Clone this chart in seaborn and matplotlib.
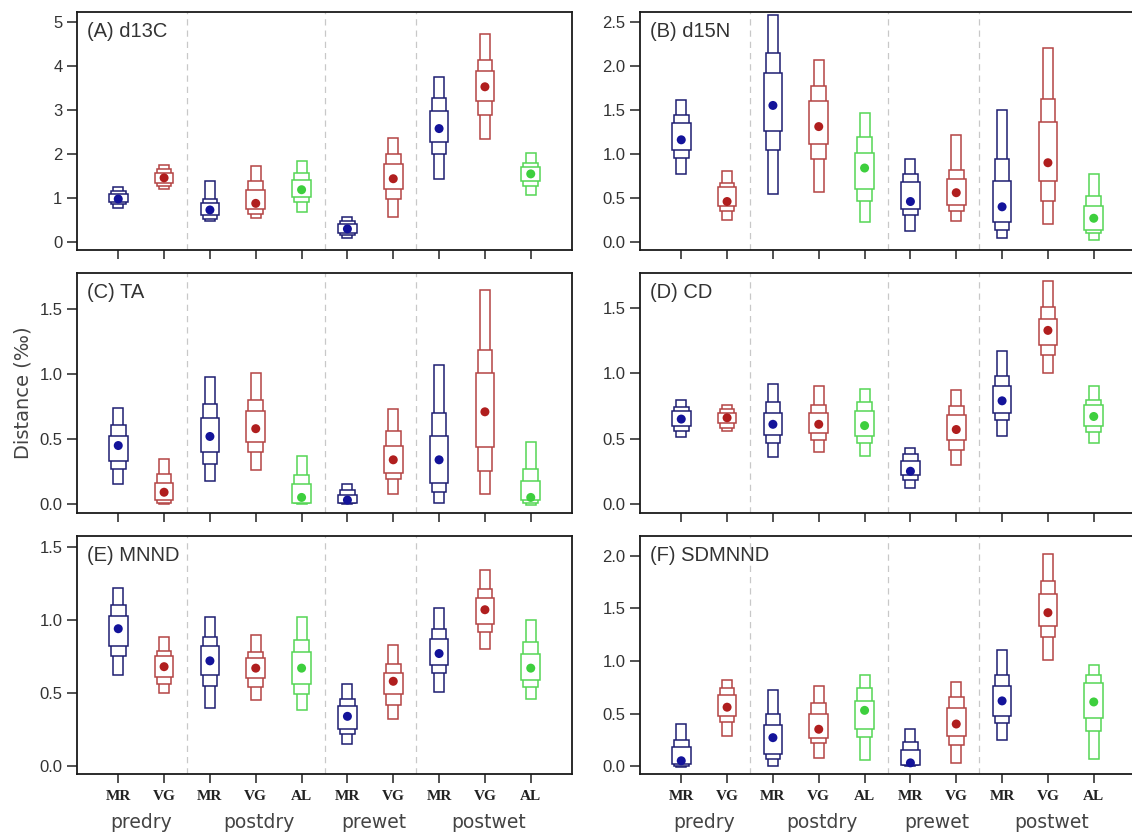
import numpy as np
import pandas as pd
import seaborn as sns
import matplotlib.pyplot as plt
from matplotlib.transforms import blended_transform_factory

# groups along the x axis (one box stack per group)
groups = ["MR", "VG", "MR", "VG", "AL", "MR", "VG", "MR", "VG", "AL"]
seasons = ["predry", "predry", "postdry", "postdry", "postdry",
           "prewet", "prewet", "postwet", "postwet", "postwet"]
season_names = ["predry", "postdry", "prewet", "postwet"]
season_centers = [1.5, 4.08, 6.58, 9.08]
separators = [2.5, 5.5, 7.5]

# (A) d13C  -- credible intervals (lo, hi) and mode
d13c_ci95 = [(0.78, 1.25), (1.2, 1.75), (0.47, 1.38), (0.55, 1.73), (0.68, 1.84),
             (0.1, 0.58), (0.56, 2.36), (1.43, 3.76), (2.35, 4.74), (1.08, 2.03)]
d13c_ci75 = [(0.86, 1.17), (1.28, 1.66), (0.53, 0.97), (0.63, 1.38), (0.9, 1.57),
             (0.15, 0.48), (0.97, 2.0), (2.0, 3.27), (2.88, 4.15), (1.27, 1.79)]
d13c_ci50 = [(0.9, 1.1), (1.34, 1.58), (0.62, 0.88), (0.76, 1.19), (1.02, 1.42),
             (0.2, 0.4), (1.2, 1.78), (2.27, 2.97), (3.2, 3.88), (1.38, 1.71)]
d13c_mode = [0.98, 1.46, 0.73, 0.88, 1.19, 0.3, 1.44, 2.58, 3.53, 1.55]

# (B) d15N
d15n_ci95 = [(0.77, 1.61), (0.25, 0.81), (0.54, 2.58), (0.57, 2.07), (0.23, 1.46),
             (0.13, 0.94), (0.24, 1.21), (0.05, 1.5), (0.21, 2.2), (0.02, 0.77)]
d15n_ci75 = [(0.95, 1.44), (0.35, 0.67), (1.05, 2.15), (0.94, 1.77), (0.47, 1.19),
             (0.31, 0.77), (0.35, 0.82), (0.14, 0.94), (0.47, 1.62), (0.1, 0.52)]
d15n_ci50 = [(1.05, 1.35), (0.41, 0.62), (1.26, 1.92), (1.11, 1.6), (0.6, 1.01),
             (0.38, 0.68), (0.42, 0.72), (0.23, 0.69), (0.69, 1.36), (0.14, 0.41)]
d15n_mode = [1.16, 0.46, 1.55, 1.31, 0.84, 0.46, 0.56, 0.4, 0.9, 0.27]

# (C) TA
ta_ci95 = [(0.15, 0.74), (0.0, 0.35), (0.18, 0.98), (0.26, 1.01), (0.0, 0.37),
           (0.0, 0.15), (0.08, 0.73), (0.01, 1.07), (0.08, 1.65), (-0.01, 0.48)]
ta_ci75 = [(0.27, 0.61), (0.01, 0.23), (0.31, 0.77), (0.4, 0.8), (0.005, 0.22),
           (0.005, 0.11), (0.19, 0.56), (0.09, 0.7), (0.25, 1.19), (0.01, 0.27)]
ta_ci50 = [(0.33, 0.52), (0.03, 0.16), (0.4, 0.66), (0.48, 0.72), (0.01, 0.15),
           (0.01, 0.07), (0.24, 0.45), (0.16, 0.52), (0.44, 1.01), (0.03, 0.18)]
ta_mode = [0.45, 0.09, 0.52, 0.58, 0.05, 0.03, 0.34, 0.34, 0.71, 0.05]

# (D) CD
cd_ci95 = [(0.51, 0.8), (0.56, 0.76), (0.36, 0.92), (0.4, 0.9), (0.37, 0.88),
           (0.12, 0.43), (0.3, 0.87), (0.52, 1.17), (1.0, 1.71), (0.47, 0.9)]
cd_ci75 = [(0.56, 0.74), (0.58, 0.73), (0.47, 0.78), (0.49, 0.76), (0.47, 0.78),
           (0.18, 0.38), (0.41, 0.75), (0.64, 0.98), (1.14, 1.51), (0.55, 0.8)]
cd_ci50 = [(0.6, 0.71), (0.62, 0.7), (0.53, 0.7), (0.54, 0.7), (0.52, 0.71),
           (0.22, 0.33), (0.49, 0.68), (0.7, 0.9), (1.22, 1.42), (0.6, 0.76)]
cd_mode = [0.65, 0.66, 0.61, 0.61, 0.6, 0.25, 0.57, 0.79, 1.33, 0.67]

# (E) MNND
mnnd_ci95 = [(0.62, 1.22), (0.5, 0.88), (0.4, 1.02), (0.45, 0.9), (0.38, 1.02),
             (0.15, 0.56), (0.32, 0.83), (0.51, 1.08), (0.8, 1.34), (0.46, 1.0)]
mnnd_ci75 = [(0.75, 1.1), (0.56, 0.79), (0.55, 0.88), (0.54, 0.78), (0.49, 0.86),
             (0.22, 0.46), (0.42, 0.7), (0.64, 0.94), (0.92, 1.21), (0.54, 0.85)]
mnnd_ci50 = [(0.82, 1.03), (0.61, 0.75), (0.62, 0.82), (0.6, 0.74), (0.56, 0.78),
             (0.25, 0.41), (0.49, 0.64), (0.69, 0.87), (0.97, 1.15), (0.59, 0.77)]
mnnd_mode = [0.94, 0.68, 0.72, 0.67, 0.67, 0.34, 0.58, 0.77, 1.07, 0.67]

# (F) SDMNND
sdmnnd_ci95 = [(-0.01, 0.4), (0.29, 0.82), (0.0, 0.72), (0.08, 0.76), (0.06, 0.87),
               (0.0, 0.35), (0.03, 0.8), (0.25, 1.1), (1.01, 2.02), (0.07, 0.96)]
sdmnnd_ci75 = [(0.0, 0.25), (0.42, 0.74), (0.07, 0.5), (0.22, 0.6), (0.28, 0.74),
               (0.005, 0.23), (0.2, 0.66), (0.41, 0.87), (1.23, 1.76), (0.33, 0.87)]
sdmnnd_ci50 = [(0.02, 0.18), (0.48, 0.68), (0.11, 0.39), (0.27, 0.5), (0.35, 0.62),
               (0.01, 0.15), (0.29, 0.55), (0.48, 0.76), (1.33, 1.64), (0.46, 0.79)]
sdmnnd_mode = [0.05, 0.56, 0.27, 0.35, 0.53, 0.03, 0.4, 0.62, 1.46, 0.61]

panel_titles = ["(A) d13C", "(B) d15N", "(C) TA", "(D) CD", "(E) MNND", "(F) SDMNND"]
panel_data = [
    (d13c_ci95, d13c_ci75, d13c_ci50, d13c_mode),
    (d15n_ci95, d15n_ci75, d15n_ci50, d15n_mode),
    (ta_ci95, ta_ci75, ta_ci50, ta_mode),
    (cd_ci95, cd_ci75, cd_ci50, cd_mode),
    (mnnd_ci95, mnnd_ci75, mnnd_ci50, mnnd_mode),
    (sdmnnd_ci95, sdmnnd_ci75, sdmnnd_ci50, sdmnnd_mode),
]
panel_ylims = [(-0.18, 5.23), (-0.09, 2.61), (-0.07, 1.78),
               (-0.07, 1.77), (-0.055, 1.575), (-0.076, 2.19)]
panel_yticks = [np.arange(0, 5.1, 1), np.arange(0, 2.6, 0.5), np.arange(0, 1.6, 0.5),
                np.arange(0, 1.6, 0.5), np.arange(0, 1.6, 0.5), np.arange(0, 2.1, 0.5)]
panel_fmt = ["{:.0f}", "{:.1f}", "{:.1f}", "{:.1f}", "{:.1f}", "{:.1f}"]

edge_colors = {"MR": "#1e1e72", "VG": "#b44444", "AL": "#55d655"}
dot_colors = {"MR": "#13139a", "VG": "#b01e1e", "AL": "#3dcf3d"}
box_widths = [0.22, 0.32, 0.41]  # 95%, 75%, 50%

sns.set_style("white")
plt.rcParams["font.family"] = ["Liberation Sans", "DejaVu Sans"]

fig = plt.figure(figsize=(11.32, 8.34), dpi=100)

W, H = 1132, 834
col_left = [77, 640]
col_width = 495
row_top = [12, 273, 536]
row_height = [238, 240, 238]

positions = np.arange(1, len(groups) + 1)
df = pd.DataFrame({"pos": positions, "group": groups, "season": seasons})

for k in range(6):
    r, c = divmod(k, 2)
    ax = fig.add_axes([col_left[c] / W, (H - row_top[r] - row_height[r]) / H,
                       col_width / W, row_height[r] / H])
    ci95, ci75, ci50, mode = panel_data[k]
    ecols = [edge_colors[g] for g in groups]

    for x in separators:
        ax.axvline(x, color="#c8c8c8", lw=0.9, ls=(0, (5, 4)), zorder=1)

    for ci, w in zip([ci95, ci75, ci50], box_widths):
        lo = np.array([v[0] for v in ci])
        hi = np.array([v[1] for v in ci])
        ax.bar(positions, hi - lo, bottom=lo, width=w, color="white",
               edgecolor=ecols, linewidth=1.1, zorder=3)

    d = df.copy()
    d["mode"] = mode
    sns.scatterplot(data=d, x="pos", y="mode", hue="group", palette=dot_colors,
                    s=42, linewidth=0, legend=False, ax=ax, zorder=5)

    ax.set_xlim(0.1, 10.9)
    ax.set_ylim(*panel_ylims[k])
    ax.set_xlabel("")
    ax.set_ylabel("")
    ax.set_yticks(panel_yticks[k])
    ax.set_yticklabels([panel_fmt[k].format(v) for v in panel_yticks[k]],
                       fontsize=12, color="#333333")
    ax.set_xticks(positions)
    ax.tick_params(axis="y", left=True, direction="out", length=7.5, width=1.1,
                   color="#222222", pad=3)
    ax.tick_params(axis="x", bottom=True, direction="out", length=6.5, width=1.1,
                   color="#222222", pad=5)
    for s in ax.spines.values():
        s.set_linewidth(1.3)
        s.set_color("#1a1a1a")

    ax.annotate(panel_titles[k], xy=(0, 1), xycoords="axes fraction",
                xytext=(7, -7), textcoords="offset points", va="top", ha="left",
                fontsize=14.5, color="#333333")

    if r == 2:
        ax.set_xticklabels(groups, fontsize=11, fontweight="bold",
                           family="Liberation Serif", color="#222222")
        trans = blended_transform_factory(ax.transData, ax.transAxes)
        for name, xc in zip(season_names, season_centers):
            ax.text(xc, -0.205, name, transform=trans, ha="center", va="center",
                    fontsize=13.5, color="#444444", family="DejaVu Sans")
    else:
        ax.set_xticklabels([])

    if k == 2:
        ax.set_ylabel("Distance (\u2030)", fontsize=14, color="#444444",
                      family="DejaVu Sans", labelpad=5)

fig.savefig("out.png", dpi=100)
